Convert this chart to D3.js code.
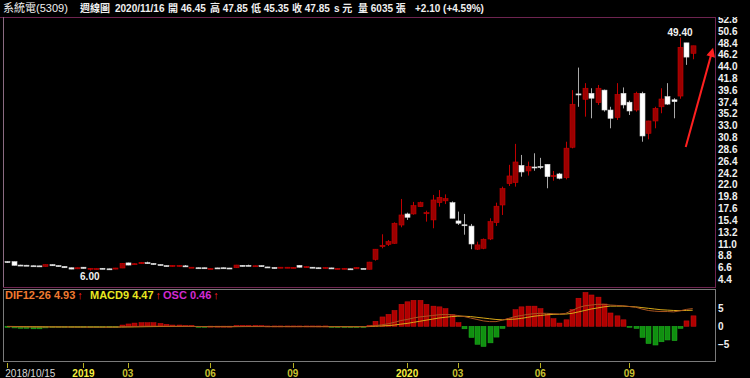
<!DOCTYPE html>
<html>
<head>
<meta charset="utf-8">
<script src="https://cdn.jsdelivr.net/npm/d3@7"></script>
<style>
  body { margin: 0; background: #000; overflow: hidden; }
  svg { display: block; }
</style>
</head>
<body>
<svg id="chart" width="750" height="378"></svg>
<script>
// weekly candles, [open, high, low, close]
const candles = [
  [7.70, 7.75, 7.45, 7.68], [7.68, 7.70, 6.98, 7.00], [7.05, 7.10, 6.95, 7.00], [7.02, 7.08, 6.95, 7.00],
  [6.92, 6.95, 6.85, 6.88], [6.90, 6.92, 6.82, 6.85], [6.80, 7.15, 6.78, 7.13], [7.13, 7.18, 6.90, 6.92],
  [6.95, 6.98, 6.75, 6.78], [6.80, 6.82, 6.52, 6.55], [6.55, 6.58, 6.28, 6.30], [6.35, 6.58, 6.30, 6.55],
  [6.65, 6.68, 6.40, 6.42], [6.30, 6.50, 6.00, 6.45], [6.30, 6.42, 6.25, 6.40], [6.45, 6.50, 6.28, 6.30],
  [6.35, 6.38, 6.18, 6.22], [6.30, 6.52, 6.28, 6.50], [6.50, 7.42, 6.48, 7.38], [7.45, 7.50, 7.02, 7.05],
  [7.20, 7.36, 7.14, 7.30], [7.30, 7.62, 7.28, 7.55], [7.50, 7.68, 7.30, 7.40], [7.35, 7.40, 7.12, 7.15],
  [7.15, 7.18, 6.98, 7.00], [6.95, 6.98, 6.78, 6.80], [6.78, 7.02, 6.75, 7.00], [6.80, 7.00, 6.78, 6.98],
  [6.90, 7.05, 6.78, 6.85], [6.60, 6.66, 6.55, 6.65], [6.55, 6.58, 6.45, 6.48], [6.55, 6.58, 6.40, 6.42],
  [6.35, 6.42, 6.32, 6.40], [6.52, 6.55, 6.48, 6.50], [6.55, 6.58, 6.40, 6.42], [6.50, 6.52, 6.38, 6.40],
  [6.55, 7.08, 6.52, 7.05], [7.00, 7.02, 6.78, 6.80], [7.00, 7.12, 6.85, 6.98], [6.80, 6.95, 6.78, 6.92],
  [6.95, 6.98, 6.72, 6.75], [6.70, 6.72, 6.50, 6.52], [6.60, 6.62, 6.38, 6.40], [6.50, 6.68, 6.48, 6.65],
  [6.50, 6.68, 6.48, 6.65], [6.50, 6.65, 6.48, 6.62], [7.00, 7.05, 6.62, 6.65], [6.60, 6.78, 6.58, 6.75],
  [6.65, 6.68, 6.48, 6.50], [6.55, 6.58, 6.40, 6.42], [6.42, 6.62, 6.40, 6.60], [6.52, 6.55, 6.40, 6.42],
  [6.30, 6.45, 6.28, 6.42], [6.30, 6.48, 6.28, 6.45], [6.35, 6.38, 6.25, 6.28], [6.35, 6.62, 6.32, 6.60],
  [6.42, 6.45, 6.35, 6.38], [6.27, 7.65, 6.25, 7.60], [8.10, 10.00, 7.87, 10.00], [10.47, 12.78, 10.17, 10.73],
  [10.90, 11.70, 10.60, 11.40], [11.10, 15.00, 11.00, 14.83], [14.50, 19.35, 14.08, 16.37], [16.56, 16.80, 15.45, 15.94],
  [16.56, 18.80, 16.43, 18.10], [17.92, 18.85, 17.90, 18.66], [16.60, 17.17, 15.13, 16.80], [15.45, 20.10, 13.90, 19.16],
  [18.66, 21.00, 17.92, 19.65], [19.00, 20.20, 18.40, 19.40], [18.66, 18.90, 15.76, 15.76], [15.26, 17.00, 14.50, 14.83],
  [14.55, 16.56, 12.70, 14.45], [14.30, 14.70, 10.00, 10.97], [10.00, 11.40, 9.86, 10.80], [10.17, 12.00, 10.00, 11.85],
  [11.90, 15.76, 11.70, 15.13], [14.94, 18.66, 14.33, 18.00], [18.23, 21.64, 16.37, 21.27], [22.20, 25.70, 21.77, 23.63],
  [22.38, 29.60, 21.64, 26.23], [25.60, 27.54, 23.50, 24.37], [24.56, 26.30, 23.70, 25.36], [25.30, 27.85, 24.60, 25.20],
  [25.40, 27.00, 24.90, 25.30], [25.80, 25.80, 21.34, 23.50], [23.60, 24.56, 22.75, 23.70], [24.00, 24.20, 23.00, 23.20],
  [23.30, 30.00, 23.00, 28.80], [28.97, 39.60, 28.77, 36.97], [38.90, 43.80, 36.50, 38.70], [37.90, 40.90, 34.66, 39.95],
  [39.00, 39.95, 34.36, 38.10], [37.27, 40.56, 36.84, 39.95], [39.60, 39.70, 35.60, 35.90], [35.90, 36.50, 32.50, 34.36],
  [34.50, 40.90, 34.05, 38.80], [39.00, 40.10, 36.20, 36.84], [37.35, 37.64, 34.97, 35.72], [35.90, 39.30, 35.60, 39.00],
  [39.00, 39.30, 30.00, 31.07], [31.57, 33.90, 30.45, 33.86], [33.86, 36.50, 32.50, 36.20], [36.50, 39.95, 35.30, 37.95],
  [38.40, 40.90, 36.84, 37.00], [37.80, 38.10, 34.36, 37.45], [38.50, 49.40, 38.00, 47.57], [48.40, 48.40, 44.30, 45.75],
  [46.45, 47.85, 45.35, 47.85]
];

// MACD panel, one value per candle (OSC as drawn on the panel scale)
const osc = [
  -0.3, -0.45, -0.55, -0.55, -0.7, -0.7, -0.45, -0.3,
  -0.15, -0.1, -0.1, -0.1, -0.1, -0.1, -0.1, -0.1, -0.1, -0.1,
  0.35, 0.65, 0.9, 1.0, 1.0, 1.0, 0.8, 0.55, 0.35, 0.35, 0.25, 0.25,
  -0.1, -0.05, 0.05, 0.05, 0.05, 0.05,
  0.25, 0.25, 0.25, 0.25, 0.2,
  0.1, 0.1, 0.1, 0.1, 0.1, 0.1, 0.1, 0.1, 0.1, 0.1,
  -0.3, -0.3, -0.3, -0.3, -0.3, -0.25,
  0.3,
  1.4, 2.6, 3.3, 4.4, 6.1, 6.8, 7.2, 7.2, 6.1, 5.6, 5.4, 4.9, 3.2, 1.0, -0.7, -3.1, -5.0, -5.6, -4.6, -3.0,
  -0.6, 2.2, 4.6, 5.4, 5.6, 5.6, 4.9, 3.3, 2.1, 0.9, 1.8, 4.7, 7.8, 9.4, 8.7, 8.1, 6.2, 3.7, 2.9, 1.8,
  -0.1, -0.6, -3.1, -4.8, -5.2, -4.3, -3.8, -4.0, -0.6, 1.5, 2.9
];
const dif = [
  -0.08, -0.12, -0.15, -0.17, -0.19, -0.2, -0.19, -0.18, -0.18, -0.19, -0.21, -0.21, -0.21, -0.22, -0.22, -0.22, -0.23, -0.22,
  -0.15, -0.1, -0.06, -0.02, 0.01, 0.02, 0.02, 0.0, -0.01, -0.02, -0.03, -0.05,
  -0.07, -0.09, -0.1, -0.1, -0.1, -0.11, -0.07, -0.05, -0.04, -0.04, -0.05, -0.07, -0.08, -0.08,
  -0.08, -0.08, -0.07, -0.07, -0.08, -0.09, -0.09, -0.1, -0.11, -0.11, -0.12, -0.1, -0.1, 0.0,
  0.2, 0.4, 0.7, 1.1, 1.6, 1.9, 2.3, 2.6, 2.8, 3.0, 3.2, 3.3, 3.2, 3.0, 2.7, 2.3, 1.9, 1.5, 1.3, 1.3,
  1.7, 2.2, 2.7, 3.0, 3.3, 3.5, 3.6, 3.6, 3.5, 3.4, 3.6, 4.4, 5.2, 5.7, 5.9, 6.1, 6.1, 5.9, 5.8, 5.7,
  5.5, 5.3, 4.8, 4.4, 4.2, 4.1, 4.1, 4.0, 4.3, 4.7, 4.93
];
const macd = [
  -0.03, -0.05, -0.07, -0.09, -0.11, -0.13, -0.14, -0.15, -0.16, -0.17, -0.18, -0.19, -0.19, -0.2, -0.2, -0.21, -0.21, -0.21,
  -0.2, -0.18, -0.16, -0.13, -0.1, -0.08, -0.06, -0.05, -0.04, -0.04, -0.04, -0.04,
  -0.05, -0.06, -0.07, -0.08, -0.08, -0.09, -0.09, -0.08, -0.07, -0.07, -0.07, -0.07, -0.07, -0.07,
  -0.07, -0.07, -0.07, -0.07, -0.07, -0.08, -0.08, -0.08, -0.09, -0.09, -0.1, -0.1, -0.1, -0.08,
  0.05, 0.1, 0.2, 0.35, 0.6, 0.8, 1.1, 1.4, 1.7, 2.0, 2.3, 2.5, 2.7, 2.8, 2.8, 2.7, 2.5, 2.3, 2.1, 1.9,
  1.8, 1.9, 2.0, 2.2, 2.5, 2.8, 3.0, 3.2, 3.3, 3.35, 3.4, 3.6, 4.0, 4.4, 4.8, 5.1, 5.4, 5.6, 5.6, 5.6,
  5.5, 5.4, 5.2, 5.0, 4.8, 4.6, 4.5, 4.4, 4.35, 4.4, 4.47
];

const priceTicks = d3.range(4.4, 52.9, 2.2);
const macdTicks = [5, 0, -5];
const dateTicks = [
  { i: 0, label: '2018/10/15', kind: 'first' },
  { i: 12, label: '2019', kind: 'year' },
  { i: 19, label: '03', kind: 'month' },
  { i: 32, label: '06', kind: 'month' },
  { i: 45, label: '09', kind: 'month' },
  { i: 63, label: '2020', kind: 'year' },
  { i: 71, label: '03', kind: 'month' },
  { i: 84, label: '06', kind: 'month' },
  { i: 98, label: '09', kind: 'month' }
];

// header strip
const headerParts = [
  { t: '系統電(5309)', x: 3, w: 'normal' },
  { t: '週線圖', x: 80, w: 'bold' },
  { t: '2020/11/16', x: 115, w: 'bold' },
  { t: '開 46.45', x: 168, w: 'bold' },
  { t: '高 47.85', x: 210, w: 'bold' },
  { t: '低 45.35', x: 251, w: 'bold' },
  { t: '收 47.85', x: 292, w: 'bold' },
  { t: 's 元', x: 334, w: 'bold' },
  { t: '量 6035 張', x: 358, w: 'bold' },
  { t: '+2.10 (+4.59%)', x: 415, w: 'bold' }
];
const legendParts = [
  { t: 'DIF12-26 4.93', x: 5, color: '#f07a30' },
  { t: 'MACD9 4.47', x: 90, color: '#e8e820' },
  { t: 'OSC 0.46', x: 163, color: '#d22ad2' }
];
// hand-drawn arrow, in [candle index, price]
const arrowFrom = [106.9, 29.0];
const arrowTo = [111.1, 47.0];

const left = 3, right = 715;
const font = '"Liberation Sans", "Noto Sans CJK TC", sans-serif';

const svg = d3.select('#chart');
svg.append('rect').attr('width', 750).attr('height', 378).attr('fill', '#000');

const x = d3.scaleLinear().domain([0, candles.length - 1]).range([7.3, 692.7]);
const y = d3.scaleLinear().domain([4.4, 52.8]).range([279.3, 19.2]);
const ym = d3.scaleLinear().domain([-5, 5]).range([344.3, 308.3]);
const bw = 5;

// === price axis ===
svg.append('g')
  .attr('transform', `translate(${right},0)`)
  .call(d3.axisRight(y).tickValues(priceTicks).tickSize(0).tickPadding(3).tickFormat(d3.format('.1f')))
  .call(g => g.select('.domain').remove())
  .selectAll('text')
  .attr('fill', '#f0f0f0')
  .style('font', `bold 10px ${font}`);

// === candles ===
const cg = svg.append('g');
const up = d => d[3] >= d[0];
cg.selectAll('line.wick')
  .data(candles)
  .join('line')
  .attr('class', 'wick')
  .attr('x1', (d, i) => Math.round(x(i)) + 0.5)
  .attr('x2', (d, i) => Math.round(x(i)) + 0.5)
  .attr('y1', d => y(d[1]))
  .attr('y2', d => y(d[2]))
  .attr('stroke', d => up(d) ? '#c00000' : '#a8a8a8')
  .attr('stroke-width', 1);

cg.selectAll('rect.body')
  .data(candles)
  .join('rect')
  .attr('class', 'body')
  .attr('x', (d, i) => Math.round(x(i)) - 2)
  .attr('width', bw)
  .attr('y', d => y(Math.max(d[0], d[3])))
  .attr('height', d => Math.max(1, Math.abs(y(d[0]) - y(d[3]))))
  .attr('fill', d => up(d) ? '#9a0000' : '#ffffff')
  .attr('stroke', d => up(d) ? '#c80000' : '#d8d8d8')
  .attr('stroke-width', 0.6);

// min / max labels
const lowIdx = d3.minIndex(candles, d => d[2]);
const highIdx = d3.maxIndex(candles, d => d[1]);
svg.append('text')
  .attr('x', x(lowIdx)).attr('y', y(candles[lowIdx][2]) + 9)
  .attr('text-anchor', 'middle').attr('fill', '#f0f0f0')
  .style('font', `bold 10px ${font}`)
  .text(d3.format('.2f')(candles[lowIdx][2]));
svg.append('text')
  .attr('x', x(highIdx)).attr('y', y(candles[highIdx][1]) - 1)
  .attr('text-anchor', 'middle').attr('fill', '#f0f0f0')
  .style('font', `bold 10px ${font}`)
  .text(d3.format('.2f')(candles[highIdx][1]));

// red arrow
svg.append('defs').append('marker')
  .attr('id', 'head')
  .attr('viewBox', '0 -5 10 10')
  .attr('refX', 7).attr('refY', 0)
  .attr('markerWidth', 5).attr('markerHeight', 4.5)
  .attr('orient', 'auto')
  .append('path').attr('d', 'M0,-5L10,0L0,5Z').attr('fill', '#ff2020');
svg.append('line')
  .attr('x1', x(arrowFrom[0])).attr('y1', y(arrowFrom[1]))
  .attr('x2', x(arrowTo[0])).attr('y2', y(arrowTo[1]))
  .attr('stroke', '#ff2020').attr('stroke-width', 2)
  .attr('marker-end', 'url(#head)');

// === MACD panel ===
const mg = svg.append('g');
mg.selectAll('rect')
  .data(osc)
  .join('rect')
  .attr('x', (d, i) => Math.round(x(i)) - 2)
  .attr('width', bw)
  .attr('y', d => d >= 0 ? ym(d) : ym(0))
  .attr('height', d => Math.max(1, Math.abs(ym(d) - ym(0))))
  .attr('fill', d => d >= 0 ? '#b00000' : '#109010')
  .attr('stroke', d => d >= 0 ? '#d01010' : '#20b020')
  .attr('stroke-width', 0.5);

const lineGen = d3.line().x((d, i) => x(i)).y(d => ym(d));
mg.append('path').datum(macd)
  .attr('d', lineGen).attr('fill', 'none').attr('stroke', '#d8a818').attr('stroke-width', 1);
mg.append('path').datum(dif)
  .attr('d', lineGen).attr('fill', 'none').attr('stroke', '#a85420').attr('stroke-width', 1);

svg.append('g')
  .attr('transform', `translate(${right},0)`)
  .call(d3.axisRight(ym).tickValues(macdTicks).tickSize(0).tickPadding(3))
  .call(g => g.select('.domain').remove())
  .selectAll('text')
  .attr('fill', '#f0f0f0')
  .style('font', `bold 10px ${font}`);

// legend
const lg = svg.append('g').style('font', `bold 11px ${font}`);
legendParts.forEach(p => {
  const t = lg.append('text').attr('x', p.x).attr('y', 299);
  t.append('tspan').attr('fill', p.color).text(p.t);
  t.append('tspan').attr('fill', '#ff2020').attr('dx', 2).text('↑');
});

// === date axis ===
const dg = svg.append('g');
dg.selectAll('line')
  .data(dateTicks)
  .join('line')
  .attr('x1', d => Math.round(x(d.i)) + 0.5).attr('x2', d => Math.round(x(d.i)) + 0.5)
  .attr('y1', 363).attr('y2', 368)
  .attr('stroke', '#b8b020');
dg.selectAll('text')
  .data(dateTicks)
  .join('text')
  .attr('x', d => d.kind === 'first' ? x(d.i) - 2 : x(d.i))
  .attr('y', 377)
  .attr('text-anchor', d => d.kind === 'first' ? 'start' : 'middle')
  .attr('fill', d => d.kind === 'first' ? '#d8d8d8' : d.kind === 'year' ? '#f8f040' : '#c8c030')
  .style('font', d => `${d.kind === 'first' ? 'normal' : 'bold'} 10px ${font}`)
  .text(d => d.label);

// === frames ===
svg.append('rect').attr('width', 750).attr('height', 17).attr('fill', '#000');
const frame = svg.append('g').attr('fill', 'none');
frame.append('line').attr('x1', 0).attr('x2', right + 0.5).attr('y1', 17.5).attr('y2', 17.5).attr('stroke', '#6e2450');
frame.append('line').attr('x1', left + 0.5).attr('x2', left + 0.5).attr('y1', 17).attr('y2', 288).attr('stroke', '#8a6a80');
frame.append('line').attr('x1', right + 0.5).attr('x2', right + 0.5).attr('y1', 17).attr('y2', 288).attr('stroke', '#6e2450');
frame.append('line').attr('x1', left).attr('x2', right + 1).attr('y1', 287.5).attr('y2', 287.5).attr('stroke', '#6e2450');
frame.append('rect').attr('x', left + 0.5).attr('y', 289.5).attr('width', right - left).attr('height', 72)
  .attr('stroke', '#7a7a7a');

// header text
const hg = svg.append('g').style('font-family', font);
hg.selectAll('text')
  .data(headerParts)
  .join('text')
  .attr('x', d => d.x).attr('y', 12)
  .attr('fill', '#f0f0f0')
  .style('font-weight', d => d.w)
  .style('font-size', d => d.w === 'normal' ? '11px' : '10px')
  .text(d => d.t);
</script>
</body>
</html>
